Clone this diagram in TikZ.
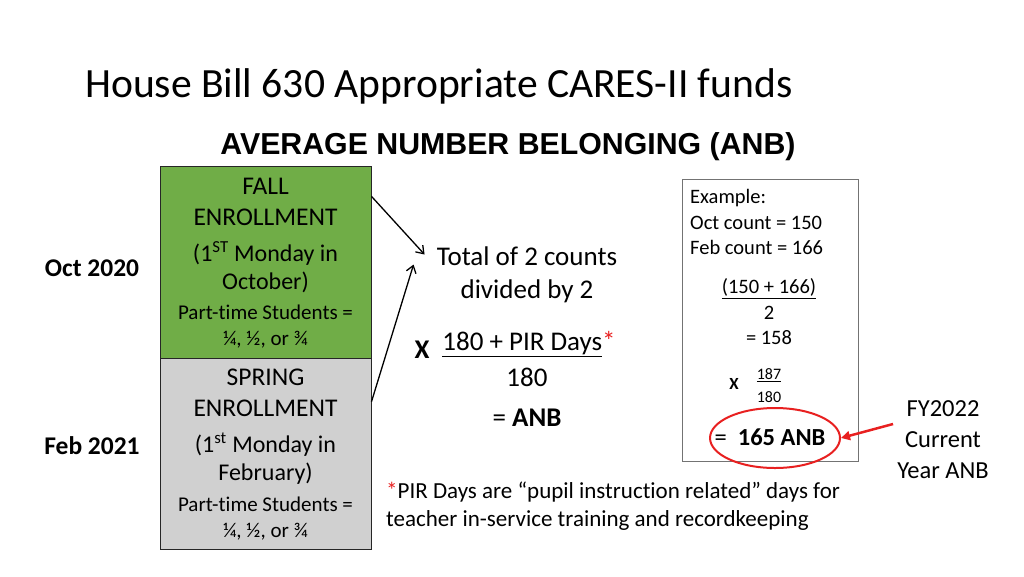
\documentclass[tikz,border=0pt]{standalone}
\usepackage{fontspec}
\setmainfont[Ligatures=NoCommon]{Carlito}
\newfontfamily\headfont{Liberation Sans}
\usepackage{xcolor}
\usetikzlibrary{positioning,calc,shapes.geometric,arrows.meta}
\definecolor{fallgreen}{RGB}{112,173,71}
\definecolor{springgray}{RGB}{208,208,208}
\definecolor{pptred}{RGB}{232,32,32}
\newcommand{\fsz}[2]{\fontsize{#1}{#2}\selectfont}
\newcommand{\tnode}[4][]{\node [#1] (#2) at (#3) {#4}}

\begin{document}
\begin{tikzpicture}[x=1pt,y=-1pt,
  every node/.style={inner sep=0pt, align=center},
  enrollbox/.style={draw=black!85, line width=1, minimum width=211, minimum height=192},
  big/.style={font=\fsz{25.5}{31}},
  small/.style={font=\fsz{21}{26}},
  ex/.style={font=\fsz{20.5}{25.5}},
  flow/.style={-{Straight Barb[length=7,width=10]}, line width=1.3},
  ]
\useasboundingbox (0,0) rectangle (1024,576);

\tnode[anchor=base west, font=\fsz{41.6}{48}]{TITLE}{85,97}{House Bill 630 Appropriate CARES-II funds};
\tnode[anchor=base, font=\headfont\bfseries\fsz{30.3}{34}]{HEAD}{508,154}{AVERAGE NUMBER BELONGING (ANB)};

% enrollment boxes
\tnode[enrollbox, fill=fallgreen]{FALL}{265.5,262}{};
\tnode[enrollbox, fill=springgray, minimum height=191]{SPRING}{265.5,453.5}{};
\tnode[big]{FALLT}{265.5,201.5}{FALL\\ENROLLMENT};
\tnode[font=\fsz{24}{28}]{FALLD}{265.5,267}{(1\textsuperscript{ST} Monday in\\October)};
\tnode[small]{FALLP}{265.5,327}{Part-time Students =\\¼, ½, or ¾};
\tnode[big]{SPRT}{265.5,393}{SPRING\\ENROLLMENT};
\tnode[font=\fsz{24}{28}]{SPRD}{265.5,459}{(1\textsuperscript{st} Monday in\\February)};
\tnode[small]{SPRP}{265.5,519}{Part-time Students =\\¼, ½, or ¾};

\tnode[font=\bfseries\fsz{25.5}{30}]{OCT}{92,268}{Oct 2020};
\tnode[font=\bfseries\fsz{25.5}{30}]{FEB}{92,446}{Feb 2021};

% formula
\tnode[font=\fsz{27}{33}]{TOTAL}{527,274.5}{Total of 2 counts\\divided by 2};
\tnode[font=\bfseries\fsz{27}{33}]{MULX}{422,350}{X};
\tnode[font=\fsz{27}{33}]{PIR}{529,344}{\underline{180 + PIR Days}\textcolor{pptred}{*}};
\tnode[font=\fsz{27}{33}]{DAYS}{527,377}{180};
\tnode[font=\fsz{27}{33}]{ANB}{527,418}{= \textbf{ANB}};

\coordinate (IN1) at ($(TOTAL.west)+(-12,-20)$);
\coordinate (IN2) at ($(TOTAL.west)+(-23,-10)$);
\draw[flow] ($(FALL.north east)!0.16!(FALL.south east)$) -- (IN1);
\draw[flow] ($(SPRING.north east)!0.23!(SPRING.south east)$) -- (IN2);

% example
\tnode[draw=black!55, line width=0.8, minimum width=176, minimum height=282]{EXBOX}{770,320}{};
\tnode[ex, anchor=west, align=left]{EXT}{690,222}{Example:\\Oct count = 150\\Feb count = 166};
\tnode[ex]{EXAVG}{769,312}{\underline{(150 + 166)}\\2\\= 158};
\tnode[font=\bfseries\fsz{17}{20}]{EXX}{734,384}{X};
\tnode[font=\fsz{16}{23}]{EXFR}{769,385.5}{\underline{187}\\180};
\tnode[font=\fsz{24.5}{28}]{EXRES}{770,437}{= \ \textbf{165 ANB}};
\tnode[ellipse, draw=pptred, line width=2, minimum width=130, minimum height=60]{OVAL}{775,438}{};

\tnode[font=\fsz{24.5}{31}]{FY}{943,440}{FY2022\\Current\\Year ANB};
\draw[-{Triangle[length=9,width=9]}, pptred, line width=2.5] ($(FY.west)+(-4,-16)$) -- (OVAL.east);

\tnode[anchor=west, align=left, font=\fsz{23}{28}]{NOTE}{386,506}{\textcolor{pptred}{*}PIR Days are “pupil instruction related” days for\\teacher in-service training and recordkeeping};
\end{tikzpicture}
\end{document}
